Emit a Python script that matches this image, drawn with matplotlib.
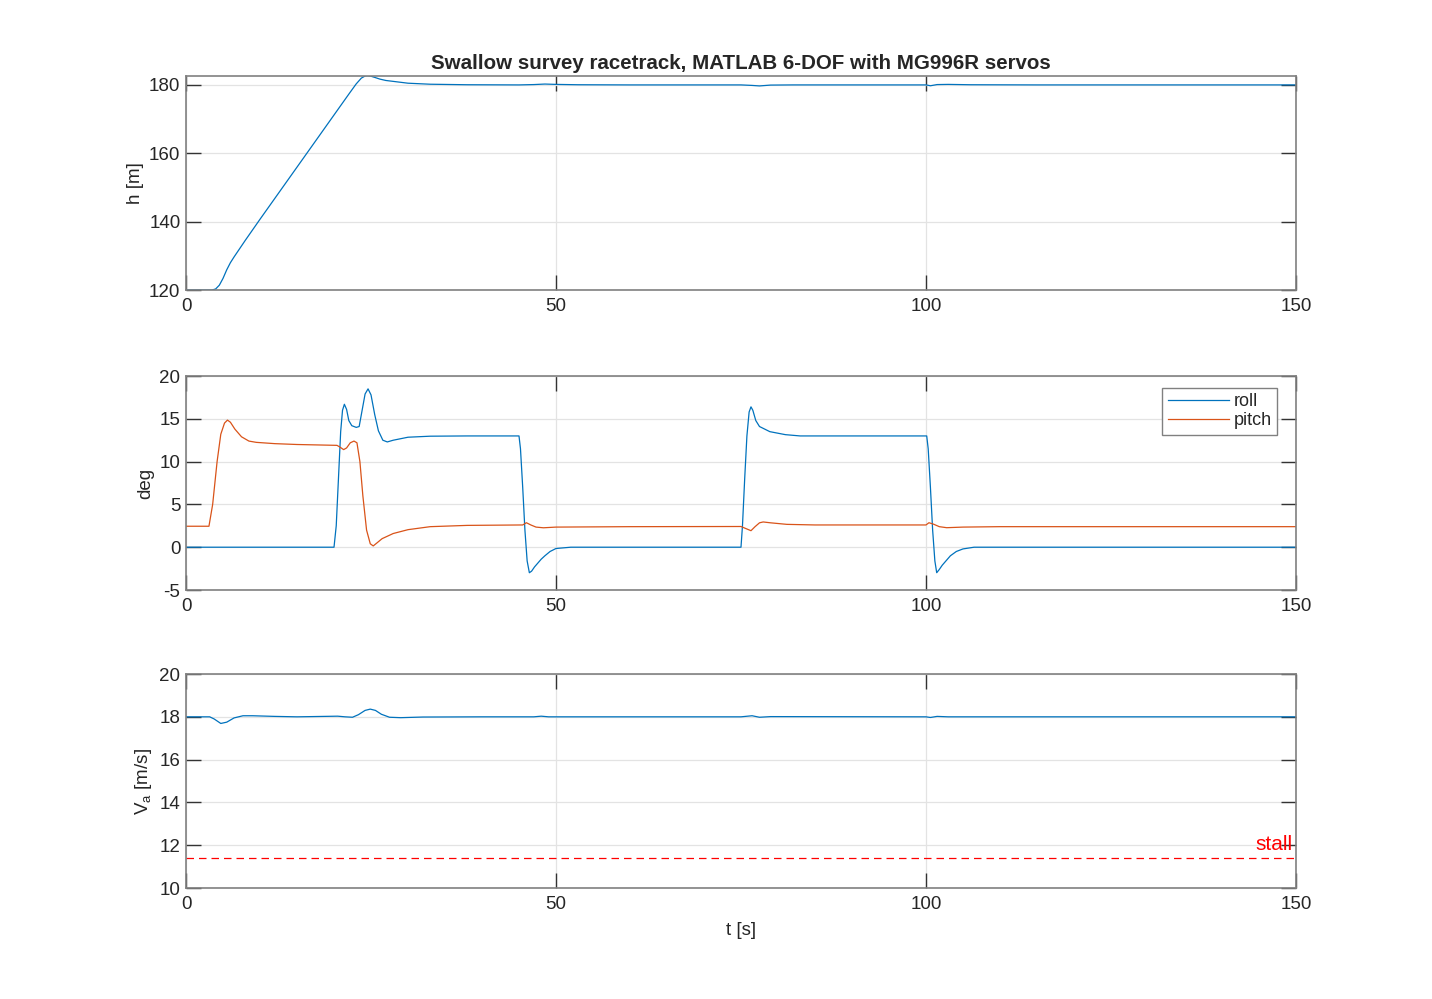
import matplotlib

matplotlib.use("Agg")
import matplotlib.pyplot as plt

plt.rcParams["font.family"] = ["Liberation Sans", "DejaVu Sans"]
plt.rcParams["axes.unicode_minus"] = False

# altitude
t_h = [0, 3.5, 4.0, 4.5, 5.0, 5.5, 6.0, 6.5, 7, 8, 9, 10, 12, 14, 16, 18, 20, 22, 23.0, 23.7,
       24.2, 24.5, 24.9, 25.5, 26.2, 27.0, 28.5, 30, 33, 38, 45, 47, 48.5, 50, 53, 60, 75, 76.5,
       77.5, 79, 82, 100, 100.6, 101.5, 103, 106, 115, 150]
h = [120, 120, 120.3, 121.4, 123.4, 125.9, 128.0, 129.7, 131.3, 134.5, 137.6, 140.7, 146.8,
     152.9, 159.0, 165.1, 171.2, 177.3, 180.3, 182.0, 182.6, 182.7, 182.6, 182.2, 181.7, 181.3,
     180.9, 180.5, 180.2, 180.05, 180.0, 180.1, 180.25, 180.15, 180.05, 180.0, 180.0, 179.85,
     179.7, 179.95, 180.0, 180.0, 179.75, 180.1, 180.15, 180.05, 180.0, 180.0]

# roll
t_roll = [0, 20.0, 20.3, 20.6, 20.9, 21.15, 21.4, 21.7, 22.0, 22.4, 23.0, 23.4, 23.8, 24.2, 24.6,
          25.0, 25.5, 26.0, 26.6, 27.2, 28, 30, 33, 38, 45.0, 45.2, 45.5, 45.8, 46.1, 46.4,
          46.7, 47.1, 47.5, 48.0, 48.5, 49.2, 50, 52, 75.0, 75.2, 75.5, 75.8, 76.1, 76.35, 76.6,
          77.0, 77.5, 78.9, 81, 83, 100.1, 100.3, 100.6, 100.9, 101.2, 101.45, 101.8, 102.2,
          102.5, 103.3, 104.1, 105, 106.5, 150]
roll = [0, 0, 2.5, 8, 13.5, 16.0, 16.7, 16.1, 14.8, 14.2, 14.0, 14.1, 16, 17.9, 18.5, 17.8, 15.5,
        13.6, 12.5, 12.3, 12.5, 12.85, 12.97, 13.0, 13.0, 11.5, 7, 2, -1.6, -2.98, -2.8, -2.3,
        -1.9, -1.4, -1.0, -0.5, -0.15, 0, 0, 2.5, 8, 13, 15.8, 16.4, 16, 14.8, 14.1, 13.5, 13.15,
        13.0, 13.0, 11.5, 7, 2, -1.6, -2.98, -2.6, -2.1, -1.8, -1.0, -0.5, -0.2, 0, 0]

# pitch
t_pitch = [0, 3.1, 3.6, 4.2, 4.7, 5.2, 5.6, 6.0, 6.6, 7.5, 8.5, 9.5, 12, 15, 20.4, 20.8, 21.3,
           21.7, 22.2, 22.7, 23.1, 23.5, 23.9, 24.4, 24.9, 25.3, 25.8, 26.5, 28, 30, 33, 38,
           45.5, 46.0, 46.6, 47.3, 48.3, 50, 60, 75.0, 75.6, 76.35, 76.9, 77.5, 78.0, 79, 81.2,
           85, 100.0, 100.4, 101.0, 101.8, 102.8, 105, 110, 150]
pitch = [2.45, 2.45, 5, 10, 13.2, 14.5, 14.85, 14.6, 13.8, 12.9, 12.4, 12.25, 12.1, 12.0, 11.9,
         11.7, 11.4, 11.6, 12.2, 12.4, 12.2, 10, 6, 2, 0.4, 0.15, 0.5, 1.0, 1.6, 2.05, 2.4, 2.55,
         2.6, 2.86, 2.6, 2.35, 2.27, 2.35, 2.4, 2.42, 2.2, 1.93, 2.4, 2.85, 2.95, 2.85, 2.67,
         2.6, 2.6, 2.86, 2.7, 2.4, 2.28, 2.35, 2.4, 2.4]

# airspeed
t_va = [0, 3.2, 3.8, 4.7, 5.5, 6.5, 7.7, 9, 12, 15, 20.5, 21.5, 22.5, 23.3, 24.2, 24.9, 25.6,
        26.4, 27.5, 29, 32, 40, 47, 48, 49, 75, 76.5, 77.5, 79, 100, 100.6, 101.5, 103, 150]
va = [18.0, 18.0, 17.9, 17.69, 17.75, 17.95, 18.05, 18.05, 18.02, 18.0, 18.03, 18.0, 17.98,
      18.1, 18.3, 18.36, 18.3, 18.12, 17.98, 17.96, 17.99, 18.0, 18.0, 18.03, 18.0, 18.0, 18.05,
      17.98, 18.01, 18.0, 17.97, 18.02, 18.0, 18.0]
v_stall = 11.4

x_ticks = [0, 50, 100, 150]
h_ticks = [120, 140, 160, 180]
deg_ticks = [-5, 0, 5, 10, 15, 20]
va_ticks = [10, 12, 14, 16, 18, 20]

BLUE = "#0072BD"
ORANGE = "#D95319"
INK = "#262626"
FS = 13.5


def style(ax, yticks, ylim):
    ax.set_xlim(0, 150)
    ax.set_ylim(*ylim)
    ax.set_xticks(x_ticks)
    ax.set_yticks(yticks)
    ax.grid(True, color="#e3e3e3", linewidth=0.9)
    ax.set_axisbelow(True)
    ax.tick_params(direction="in", length=11, width=1.0, color="#333333",
                   top=True, right=True, labelsize=FS, labelcolor=INK, pad=6)
    ax.tick_params(axis="y", pad=4)
    for sp in ax.spines.values():
        sp.set_color("#808080")
        sp.set_linewidth(1.2)


fig = plt.figure(figsize=(14.32, 9.99), dpi=100)
left, width, height = 0.1299, 0.7751, 0.2142
ax1 = fig.add_axes([left, 0.7097, width, height])
ax2 = fig.add_axes([left, 0.4094, width, height])
ax3 = fig.add_axes([left, 0.1111, width, height])

ax1.plot(t_h, h, color=BLUE, linewidth=0.9)
style(ax1, h_ticks, (120, 182.6))
ax1.set_ylabel("h [m]", fontsize=FS, color=INK, labelpad=4)
ax1.set_title("Swallow survey racetrack, MATLAB 6-DOF with MG996R servos",
              fontsize=14.8, fontweight="bold", color=INK, pad=5)

ax2.plot(t_roll, roll, color=BLUE, linewidth=0.9, label="roll")
ax2.plot(t_pitch, pitch, color=ORANGE, linewidth=0.9, label="pitch")
style(ax2, deg_ticks, (-5, 20))
ax2.set_ylabel("deg", fontsize=FS, color=INK, labelpad=4)
leg = ax2.legend(loc="upper right", bbox_to_anchor=(0.983, 0.945), fontsize=13,
                 fancybox=False, framealpha=1, edgecolor="#808080", handlelength=3.4,
                 handletextpad=0.25, borderpad=0.3, labelspacing=0.12, borderaxespad=0)
leg.get_frame().set_linewidth(1.0)
for txt in leg.get_texts():
    txt.set_color(INK)

ax3.plot(t_va, va, color=BLUE, linewidth=0.9)
ax3.axhline(v_stall, color="#ff0000", linestyle=(0, (6, 4)), linewidth=0.9)
ax3.text(149.6, v_stall + 0.2, "stall", color="#ff0000", fontsize=15, ha="right", va="bottom")
style(ax3, va_ticks, (10, 20))
ax3.set_ylabel("V$_\\mathregular{a}$ [m/s]", fontsize=FS, color=INK, labelpad=4)
ax3.set_xlabel("t [s]", fontsize=FS, color=INK, labelpad=6)

fig.savefig("out.png", dpi=100)
plt.close(fig)
